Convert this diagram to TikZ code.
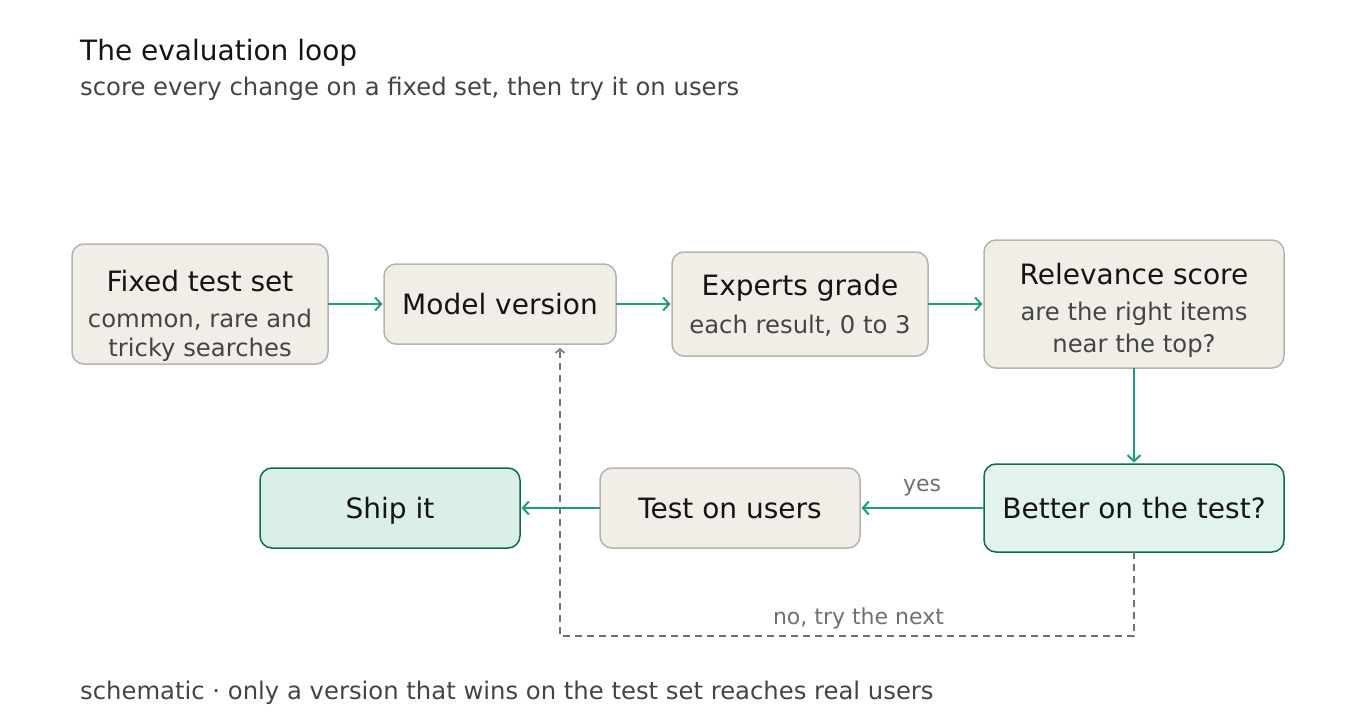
\documentclass[tikz,border=0pt]{standalone}
\usepackage{fontspec}
\setmainfont{DejaVu Sans}
\usetikzlibrary{positioning, arrows.meta}
\definecolor{boxfill}{HTML}{F1EEE8}
\definecolor{boxline}{HTML}{B5B3AB}
\definecolor{gfill}{HTML}{E2F3EC}
\definecolor{shipfill}{HTML}{DCEFE7}
\definecolor{gline}{HTML}{0F6B4E}
\definecolor{garrow}{HTML}{1E9E74}
\definecolor{dgray}{HTML}{707070}
\definecolor{subtext}{HTML}{444444}
\definecolor{maintext}{HTML}{141414}
\newcommand{\subline}[1]{{\fontsize{24.3}{29}\selectfont\color{subtext}#1}}
\tikzstyle{stage} = [rectangle, rounded corners=12pt, draw=boxline, line width=1.5pt, fill=boxfill, text=maintext, align=center, inner sep=0pt, outer sep=0pt, font=\fontsize{28}{34}\selectfont]
\tikzstyle{decision} = [stage, draw=gline, fill=gfill]
\tikzstyle{finish} = [stage, draw=gline, fill=shipfill]
\tikzstyle{flow} = [draw=garrow, line width=2pt, shorten >=1.5pt, -{Straight Barb[length=6pt, width=13pt, line width=2pt]}]
\tikzstyle{retry} = [draw=dgray, line width=1.8pt, dash pattern=on 7pt off 5pt, -{Straight Barb[length=4pt, width=9pt, line width=1.5pt]}]
\tikzstyle{edgelabel} = [text=dgray, font=\fontsize{22}{26}\selectfont, inner sep=0pt]

\begin{document}
\begin{tikzpicture}[x=1pt, y=1pt, node distance=56pt]
  \useasboundingbox (0,0) rectangle (1360,-728);
  \node (title) [anchor=base west, text=maintext, font=\fontsize{28}{34}\selectfont, inner sep=0pt] at (80,-60) {The evaluation loop};
  \node (subtitle) [anchor=base west, text=subtext, font=\fontsize{24.3}{29}\selectfont, inner sep=0pt] at (80,-95) {score every change on a fixed set, then try it on users};
  % top row
  \node (fixed) [stage, minimum width=256pt, minimum height=120pt, text height=104pt, text depth=0pt] at (200,-304) {Fixed test set\\[2pt]\subline{common, rare and}\\[-5pt]\subline{tricky searches}};
  \node (model) [stage, minimum width=232pt, minimum height=80pt, right= of fixed] {Model version};
  \node (experts) [stage, minimum width=256pt, minimum height=104pt, text height=58pt, text depth=0pt, right= of model] {Experts grade\\[4pt]\subline{each result, 0 to 3}};
  \node (relevance) [stage, minimum width=300pt, minimum height=128pt, text height=96pt, text depth=0pt, right= of experts] {Relevance score\\[2pt]\subline{are the right items}\\[-2pt]\subline{near the top?}};
  \draw [flow] (fixed) -- (model);
  \draw [flow] (model) -- (experts);
  \draw [flow] (experts) -- (relevance);
  % bottom row
  \node (better) [decision, minimum width=300pt, minimum height=88pt, below= 96pt of relevance] {Better on the test?};
  \node (users) [stage, minimum width=260pt, minimum height=80pt, left= 124pt of better] {Test on users};
  \node (ship) [finish, minimum width=260pt, minimum height=80pt, text depth=0pt, left= 80pt of users] {Ship it};
  \draw [flow] (relevance) -- (better);
  \draw [flow] (better) -- node[edgelabel, above=11pt] {yes} (users);
  \draw [flow] (users) -- (ship);
  % back to the model
  \coordinate (turn) at ([yshift=-84pt]better.south);
  \coordinate (back) at ([xshift=60pt, yshift=-4pt]model.south);
  \draw [retry] (better.south) -- (turn) -| node[edgelabel, pos=0.24, above=6pt] {no, try the next} (back);
  \node (footer) [anchor=base west, text=subtext, font=\fontsize{24.3}{29}\selectfont, inner sep=0pt] at (80,-699) {schematic · only a version that wins on the test set reaches real users};
\end{tikzpicture}
\end{document}
